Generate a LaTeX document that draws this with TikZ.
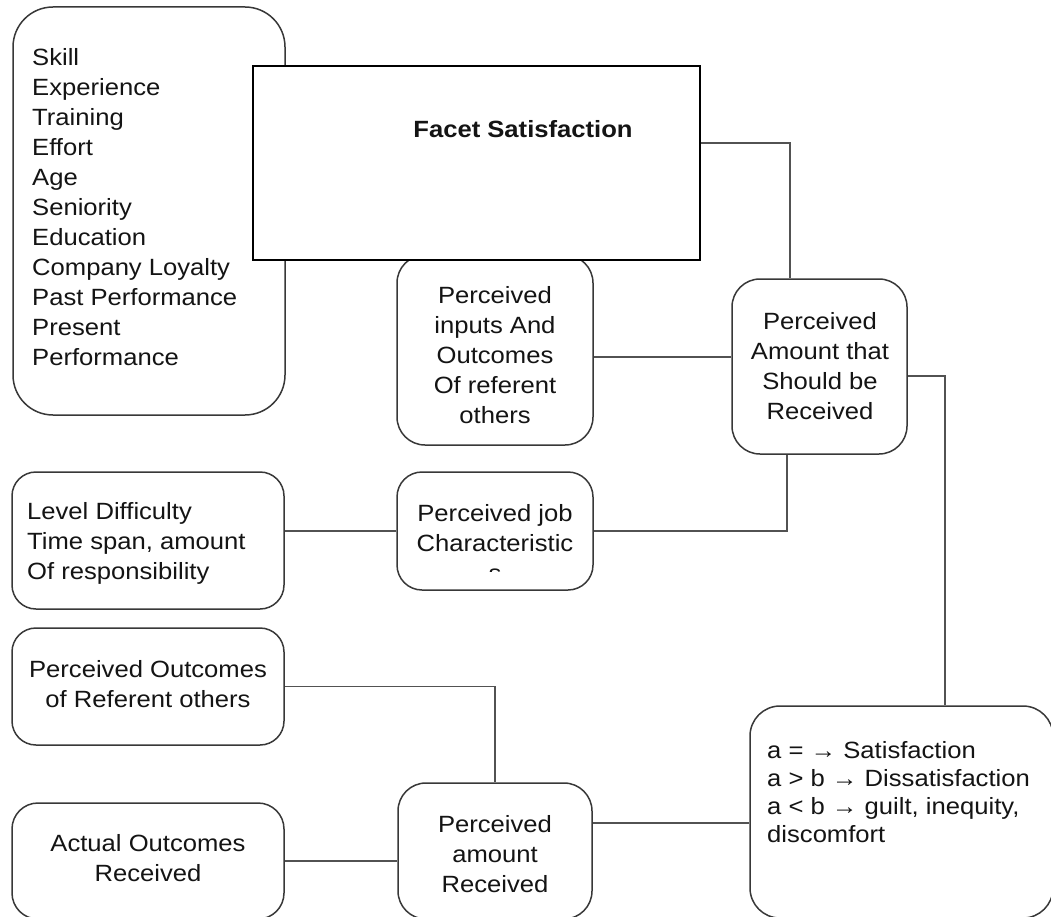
\documentclass[tikz,border=0pt]{standalone}
\usepackage{fontspec}
\setmainfont[FakeStretch=1.09]{Liberation Sans}
\begin{document}
\begin{tikzpicture}[x=1pt,y=-1pt,
  box/.style={draw=black!78, line width=1.5pt, fill=white, inner sep=0pt},
  rbox/.style={box, rounded corners=#1},
  facetbox/.style={draw=black, line width=2.2pt, fill=white, inner sep=0pt},
  txt/.style={inner sep=0pt, text=black!92, font=\fontsize{23.5}{30}\selectfont},
  conn/.style={draw=black!68, line width=1.5pt}]
\useasboundingbox (0,0) rectangle (1051,917);

% boxes
\node[rbox=40pt, minimum width=272pt, minimum height=408pt] (skills) at (149,211) {};
\node[rbox=28pt, minimum width=196pt, minimum height=190pt] (pio) at (495,350) {};
\node[facetbox, minimum width=447pt, minimum height=194pt] (facet) at (476.5,163) {};
\node[rbox=28pt, minimum width=175pt, minimum height=175pt] (pasr) at (819.5,366.5) {};
\node[rbox=24pt, minimum width=272pt, minimum height=137pt] (level) at (148,540.5) {};
\node[rbox=25pt, minimum width=196pt, minimum height=118pt] (pjc) at (495,531) {};
\node[rbox=24pt, minimum width=272pt, minimum height=117pt] (por) at (148,686.5) {};
\node[rbox=26pt, minimum width=272pt, minimum height=116pt] (actual) at (148,861) {};
\node[rbox=28pt, minimum width=194pt, minimum height=136pt] (par) at (495,851) {};
\node[rbox=30pt, minimum width=303pt, minimum height=212pt] (result) at (901.5,812) {};

% texts
\node[txt, align=left, anchor=west] (tskills) at (32,207) {Skill\\Experience\\Training\\Effort\\Age\\Seniority\\Education\\Company Loyalty\\Past Performance\\Present\\Performance};
\node[txt, font=\bfseries\fontsize{23.5}{30}\selectfont] (tfacet) at (523,129) {Facet Satisfaction};
\node[txt, align=center] (tpio) at (495,355) {Perceived\\inputs And\\Outcomes\\Of referent\\others};
\node[txt, align=center] (tpasr) at (820,366) {Perceived\\Amount that\\Should be\\Received};
\node[txt, align=left, anchor=west] (tlevel) at (27,543) {Level Difficulty\\Time span, amount\\Of responsibility};
\begin{scope}
  \clip (397,470) rectangle (593,571);
  \node[txt, align=center] (tpjc) at (495,543) {Perceived job\\Characteristic\\s};
\end{scope}
\node[txt, align=center] (tpor) at (148,684) {Perceived Outcomes\\of Referent others};
\node[txt, align=center] (tactual) at (148,858) {Actual Outcomes\\Received};
\node[txt, align=center] (tpar) at (495,854) {Perceived\\amount\\Received};
\node[txt, align=left, anchor=west, font=\fontsize{23.5}{28}\selectfont] (tresult) at (767,792) {a = → Satisfaction\\a > b → Dissatisfaction\\a < b → guilt, inequity,\\discomfort};

% connectors
\draw[conn] ([yshift=20pt]facet.east) -| ([xshift=-29.5pt]pasr.north);
\draw[conn] ([yshift=-7pt]pio.east) -- ([yshift=-7pt]pio.east -| pasr.west);
\draw[conn] ([yshift=-9.5pt]pasr.east) -| ([xshift=43.5pt]result.north);
\draw[conn] ([xshift=-32.5pt]pasr.south) |- (pjc.east);
\draw[conn] (pjc.west) -- (pjc.west -| level.east);
\draw[conn] (por.east) -| (par.north);
\draw[conn] (actual.east) -- (actual.east -| par.west);
\draw[conn] ([yshift=28pt]par.east) -- ([yshift=28pt]par.east -| result.west);
\end{tikzpicture}
\end{document}
